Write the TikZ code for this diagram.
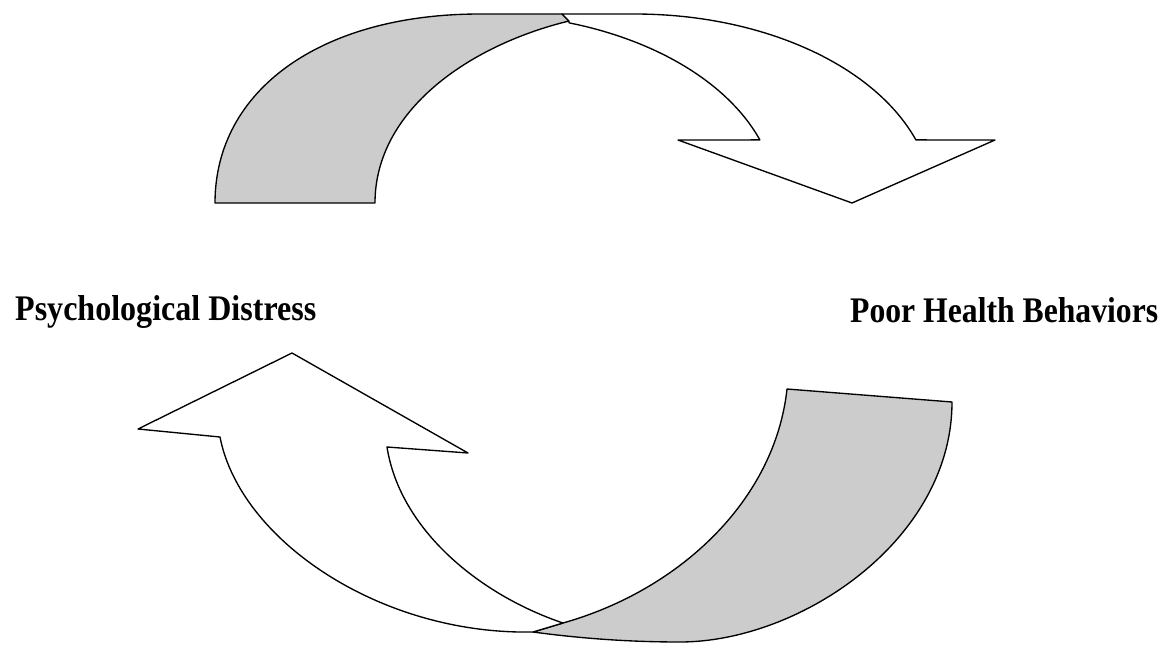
\documentclass[tikz,border=0pt]{standalone}
\usepackage{graphicx}
\usepackage{fontspec}
\newfontfamily\lblfont{Liberation Serif}
\definecolor{bandgray}{RGB}{204,204,204}
\begin{document}
\begin{tikzpicture}[x=1pt,y=-1pt,
  band/.style={draw=black, line width=1.35pt, line join=round},
  backband/.style={band, fill=bandgray},
  frontband/.style={band, fill=white},
  lbl/.style={inner sep=0pt, anchor=base west, font=\lblfont\bfseries\fontsize{36}{40}\selectfont}]
\useasboundingbox (0,0) rectangle (1171,645);

% ---------- top curved arrow ----------
% back (gray) band
\path[backband] (215,203) .. controls (215,90) and (321,14) .. (480,14)
  -- (562,14) -- (569,21)
  .. controls (470,45) and (375,110) .. (375,203) -- cycle;
% front (white) band with arrowhead
\path[frontband] (562,14) -- (635,14)
  -- plot[domain=90:19.5, samples=50, variable=\t] ({635+298*cos(\t)},{203-189*sin(\t)})
  -- (995,140) -- (852,203) -- (678,140)
  -- plot[domain=19.5:72.4, samples=50, variable=\t] ({479+298*cos(\t)},{203-189*sin(\t)})
  -- (569,21) -- cycle;

% ---------- bottom curved arrow ----------
% back (gray) band
\path[backband] (533,632) -- (563,623)
  .. controls (680,590) and (775,500) .. (787,389)
  -- (952,402)
  .. controls (952,540) and (800,642) .. (680,642)
  .. controls (620,642) and (570,637) .. (533,632) -- cycle;
% front (white) band with arrowhead
\path[frontband] (533,632)
  .. controls (380,635) and (240,540) .. (220,437)
  -- (138,429) -- (292,353) -- (468,453) -- (387,447)
  .. controls (400,530) and (480,595) .. (563,623)
  -- cycle;

% ---------- labels ----------
\node[lbl] (distress) at (15,320) {\scalebox{0.89}[1]{Psychological Distress}};
\node[lbl] (behaviors) at (850,322) {\scalebox{0.88}[1]{Poor Health Behaviors}};
\end{tikzpicture}
\end{document}
